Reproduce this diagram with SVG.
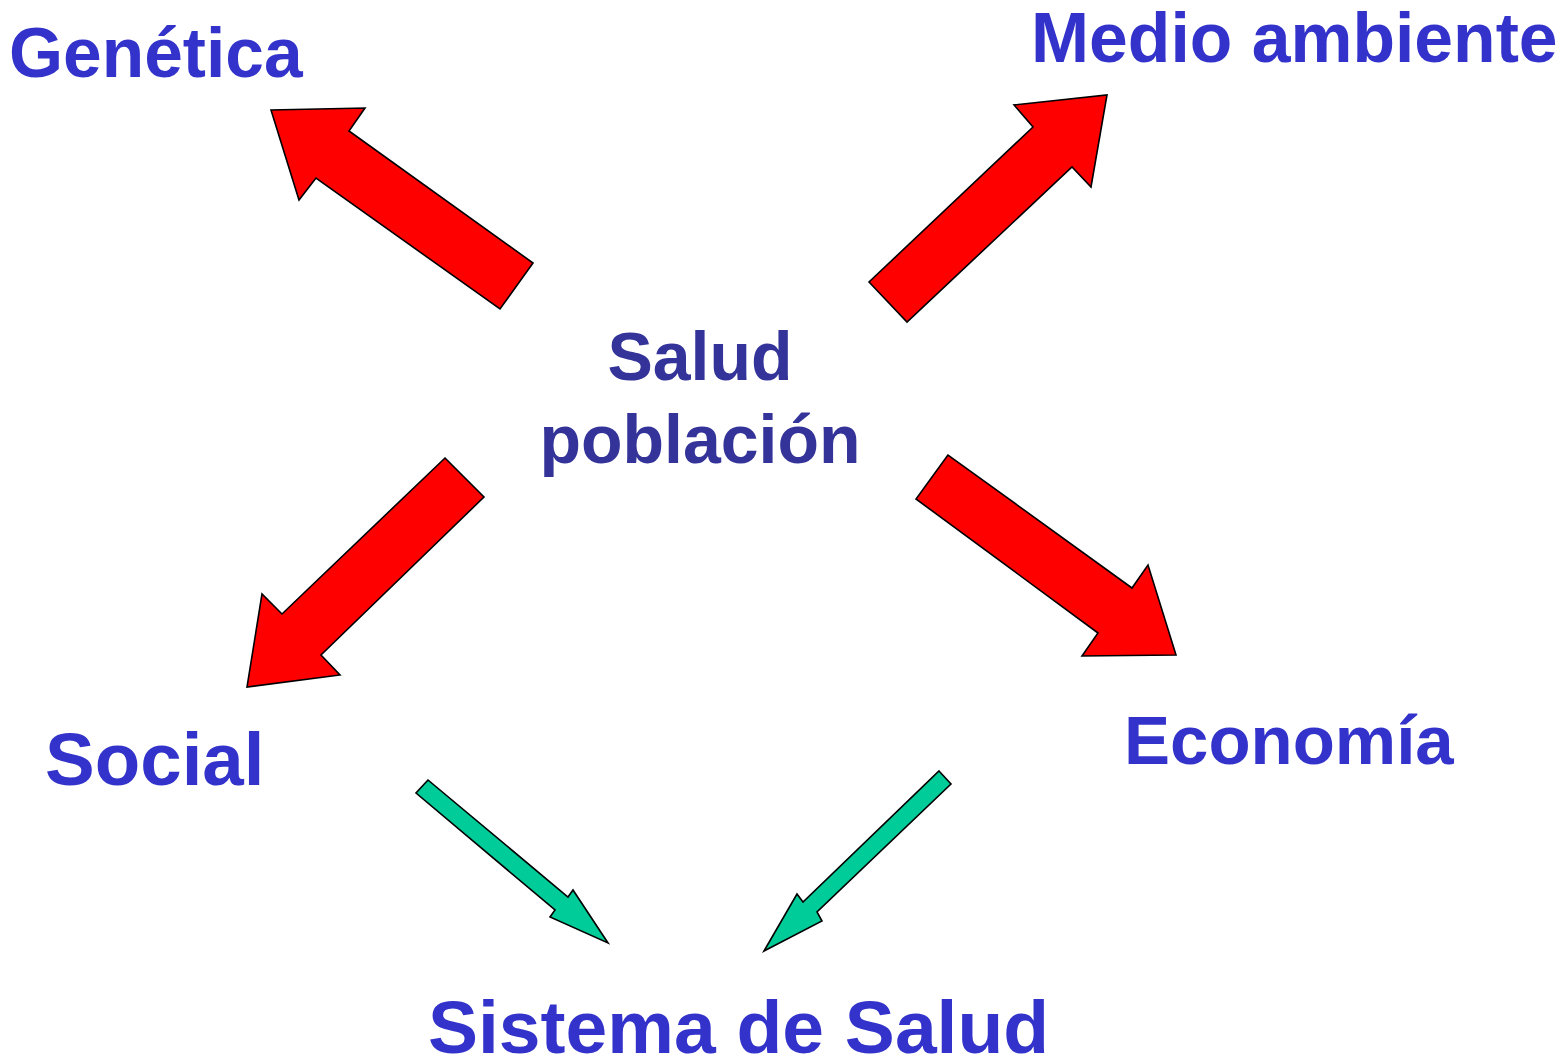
<svg xmlns="http://www.w3.org/2000/svg" width="1565" height="1061" viewBox="0 0 1565 1061">
<style>
.lbl{font-family:"Liberation Sans",Arial,sans-serif;font-weight:bold;fill:#3333CC}
.ctr{fill:#333399}
.red{fill:#FF0000;stroke:#000;stroke-width:1.6;stroke-linejoin:miter}
.grn{fill:#00CC99;stroke:#000;stroke-width:1.6;stroke-linejoin:miter}
</style>
<rect width="1565" height="1061" fill="#fff"/>
<g id="connectors">
<polygon id="a-genetica" class="red" points="533,263 500,309 316,178 299,200 271,110 365,108 349,131"/>
<polygon id="a-medio" class="red" points="869,282 907,322 1072,167 1091,187 1107,95 1014,105 1033,127"/>
<polygon id="a-social" class="red" points="445,458 484,497 321,655 340,675 247,687 262,594 282,614"/>
<polygon id="a-economia" class="red" points="948,455 916,499 1098,633 1082,656 1176,655 1148,565 1132,588"/>
<polygon id="a-social-sistema" class="grn" points="428,780 416,793 555,910 550,917 608,943 573,890 568,897"/>
<polygon id="a-economia-sistema" class="grn" points="939,771 951,784 817,912 822,921 764,951 797,894 803,902"/>
</g>
<g id="n-genetica"><text class="lbl" x="9" y="77" font-size="69.5">Genética</text></g>
<g id="n-medio"><text class="lbl" x="1031" y="62" font-size="69.7">Medio ambiente</text></g>
<g id="n-salud"><text class="lbl ctr" x="700" y="380" font-size="68" text-anchor="middle">Salud</text><text class="lbl ctr" x="700" y="463" font-size="68" text-anchor="middle">población</text></g>
<g id="n-social"><text class="lbl" x="45" y="785" font-size="74.5">Social</text></g>
<g id="n-economia"><text class="lbl" x="1124" y="764" font-size="69">Economía</text></g>
<g id="n-sistema"><text class="lbl" x="428" y="1053" font-size="75">Sistema de Salud</text></g>
</svg>
